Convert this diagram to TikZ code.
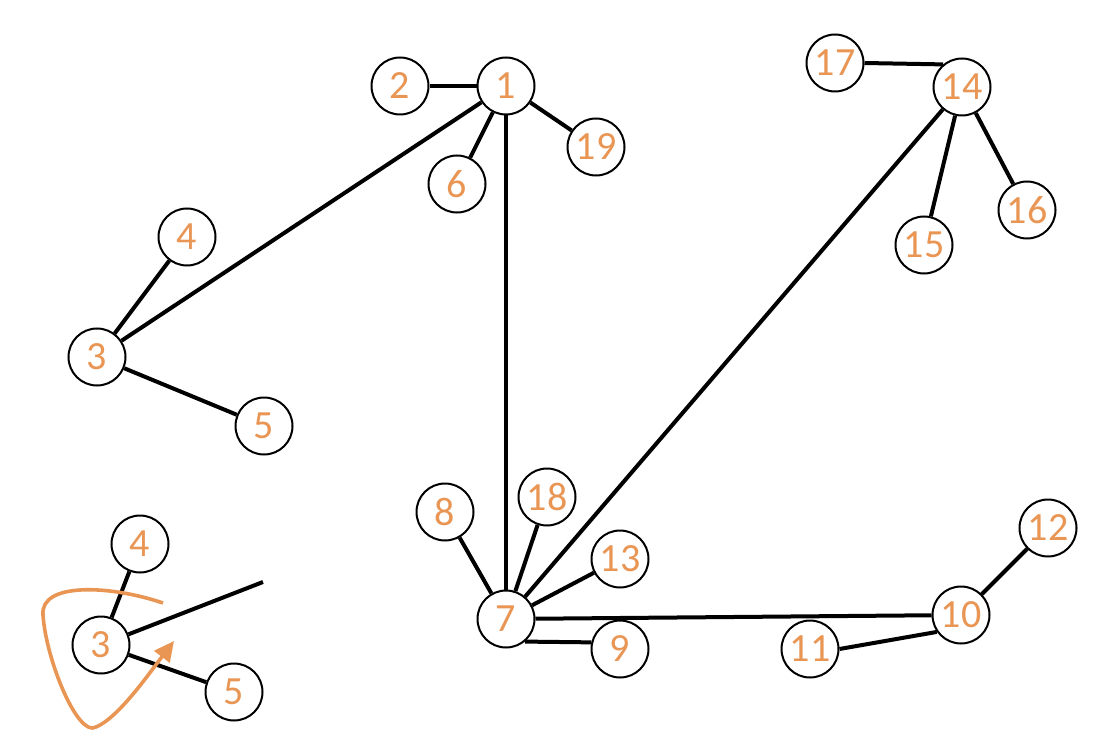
\documentclass[tikz,border=0pt]{standalone}
\usepackage{fontspec}
\setmainfont{Carlito}
\usetikzlibrary{arrows.meta}
\definecolor{nodeorange}{RGB}{233,150,85}
\tikzset{
  vtx/.style={circle, draw=black, line width=2pt, fill=white, minimum size=57pt, inner sep=0pt,
    text=nodeorange, font=\fontsize{40}{40}\selectfont},
  edge/.style={draw=black, line width=4pt},
  loopcurve/.style={draw=nodeorange, line width=3.6pt, -{Triangle[length=20pt,width=19pt]}}
}
\begin{document}
\begin{tikzpicture}[x=1pt,y=-1pt]
\useasboundingbox (0,0) rectangle (1114,746);
% edges first, nodes drawn over them
\coordinate (bfree) at (263,582);
% top graph nodes
\node[vtx] (n1) at (506,86) {1};
\node[vtx] (n2) at (400,86) {2};
\node[vtx] (n19) at (596,147) {19};
\node[vtx] (n6) at (457,184) {6};
\node[vtx] (n4) at (187,237) {4};
\node[vtx] (n3) at (97,357) {3};
\node[vtx] (n5) at (264,426) {5};
\node[vtx] (n17) at (835,63) {17};
\node[vtx] (n14) at (962,87) {14};
\node[vtx] (n15) at (924,245) {15};
\node[vtx] (n16) at (1027,210) {16};
\node[vtx] (n8) at (445,512) {8};
\node[vtx] (n18) at (547,497) {18};
\node[vtx] (n13) at (620,559) {13};
\node[vtx] (n7) at (506,619) {7};
\node[vtx] (n9) at (620,649) {9};
\node[vtx] (n10) at (961,615) {10};
\node[vtx] (n11) at (810,649) {11};
\node[vtx] (n12) at (1048,528) {12};
% bottom-left nodes
\node[vtx] (b4) at (140,544) {4};
\node[vtx] (b3) at (101,645) {3};
\node[vtx] (b5) at (234,692) {5};
% edges
\path[edge] (n2) -- (n1);
\path[edge] (n1) -- (n19);
\path[edge] (n1) -- (n6);
\path[edge] (n1) -- (n3);
\path[edge] (n1) -- (n7);
\path[edge] (n3) -- (n4);
\path[edge] (n3) -- (n5);
\path[edge] (n17.east) -- (n14.130);
\path[edge] (n14) -- (n15);
\path[edge] (n14) -- (n16);
\path[edge] (n14) -- (n7);
\path[edge] (n7) -- (n8);
\path[edge] (n7) -- (n18);
\path[edge] (n7) -- (n13);
\path[edge] (n7.-50) -- (n9.167);
\path[edge] (n7) -- (n10);
\path[edge] (n11.east) -- (n10.215);
\path[edge] (n10) -- (n12);
\path[edge] (b3) -- (b4);
\path[edge] (b3) -- (b5);
\path[edge] (b3) -- (bfree);
% orange curve with arrow
\coordinate (cstart) at (163,603);
\coordinate (cleft) at (43,615);
\coordinate (cbot) at (96,727);
\coordinate (ctip) at (174,641);
\draw[loopcurve] (cstart) .. controls (110,585) and (40,582) .. (cleft)
  .. controls (46,660) and (78,738) .. (cbot)
  .. controls (118,718) and (148,675) .. (ctip);
\end{tikzpicture}
\end{document}
